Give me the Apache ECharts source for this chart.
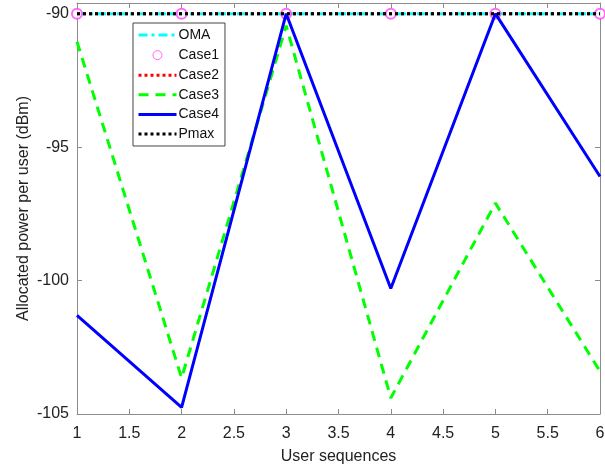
<!DOCTYPE html>
<html><head><meta charset="utf-8">
<script src="https://cdn.jsdelivr.net/npm/echarts@6/dist/echarts.min.js"></script>
<style>html,body{margin:0;padding:0;background:#fff}#c{width:605px;height:468px}</style>
</head><body><div id="c"></div>
<script>
const users = [1, 2, 3, 4, 5, 6];
const oma   = [-90, -90, -90, -90, -90, -90];
const case1 = [-90, -90, -90, -90, -90, -90];
const case2 = [-90, -90, -90, -90, -90, -90];
const case3 = [-91.05, -103.65, -90.45, -104.4, -97.1, -103.4];
const case4 = [-101.3, -104.75, -90, -100.3, -90, -96.1];
const pmax  = [-90, -90, -90, -90, -90, -90];
const xTicks = { min: 1, max: 6, interval: 0.5 };
const yTicks = { min: -105, max: -89.6, interval: 5 };

const pairs = arr => users.map((u, i) => [u, arr[i]]);
const FONT = 'Liberation Sans, Arial, sans-serif';
const AX = '#8c8c8c';
const chart = echarts.init(document.getElementById('c'), null, { renderer: 'canvas' });

const baseX = {
  type: 'value', min: xTicks.min, max: xTicks.max, interval: xTicks.interval,
  axisLine: { show: true, lineStyle: { color: AX, width: 1 } },
  axisTick: { show: true, inside: true, length: 5, lineStyle: { color: AX } },
  splitLine: { show: false }
};
const baseY = {
  type: 'value', min: yTicks.min, max: yTicks.max, interval: yTicks.interval,
  axisLine: { show: true, lineStyle: { color: AX, width: 1 } },
  axisTick: { show: true, inside: true, length: 5, lineStyle: { color: AX } },
  splitLine: { show: false }
};
const yFmt = v => (Math.abs(v % 5) < 1e-6 ? String(v) : '');
const noSym = { opacity: 0 };
const circleIcon = 'path://M0,0h0.01M38,14h0.01M23.5,7A4.5,4.5,0,1,1,14.5,7A4.5,4.5,0,1,1,23.5,7Z';

chart.setOption({
  animation: false,
  backgroundColor: '#fff',
  grid: { left: 77, right: 5, top: 3, bottom: 54, containLabel: false, outerBoundsMode: 'none' },
  legend: {
    orient: 'vertical', left: 133, top: 23,
    padding: [5, 6, 5, 4], itemGap: 5.6, itemWidth: 38, itemHeight: 14,
    backgroundColor: '#fff', borderColor: '#444', borderWidth: 1,
    textStyle: { fontFamily: FONT, fontSize: 14, color: '#111', padding: [0, 0, 0, -3] },
    data: [
      { name: 'OMA', itemStyle: noSym, lineStyle: { width: 3 } },
      { name: 'Case1', icon: circleIcon, itemStyle: { color: '#fff', borderColor: '#ff44ff', borderWidth: 1 } },
      { name: 'Case2', itemStyle: noSym, lineStyle: { width: 3 } },
      { name: 'Case3', itemStyle: noSym, lineStyle: { width: 3 } },
      { name: 'Case4', itemStyle: noSym, lineStyle: { width: 3 } },
      { name: 'Pmax', itemStyle: noSym, lineStyle: { width: 3 } }
    ]
  },
  xAxis: [
    Object.assign({}, baseX, {
      position: 'bottom',
      name: 'User sequences', nameLocation: 'middle', nameGap: 35,
      nameTextStyle: { fontFamily: FONT, fontSize: 16, color: '#222' },
      axisLabel: { fontFamily: FONT, fontSize: 16, color: '#222', margin: 12 }
    }),
    Object.assign({}, baseX, { position: 'top', axisLabel: { show: false } })
  ],
  yAxis: [
    Object.assign({}, baseY, {
      position: 'left',
      name: 'Allocated power per user (dBm)', nameLocation: 'middle', nameGap: 45,
      nameMoveOverlap: false,
      nameTextStyle: { fontFamily: FONT, fontSize: 16, color: '#222' },
      axisLabel: { fontFamily: FONT, fontSize: 16, color: '#222', margin: 8, formatter: yFmt, showMaxLabel: false }
    }),
    Object.assign({}, baseY, { position: 'right', axisLabel: { show: false } })
  ],
  series: [
    { name: 'OMA', type: 'line', data: pairs(oma), symbol: 'none',
      lineStyle: { color: '#00ffff', width: 3, type: [9, 4, 3, 4] }, itemStyle: { color: '#00ffff' }, z: 2 },
    { name: 'Case1', type: 'scatter', data: pairs(case1), symbol: 'emptyCircle', symbolSize: 10,
      itemStyle: { color: '#ff44ff', borderColor: '#ff44ff', borderWidth: 1 }, clip: false, z: 3 },
    { name: 'Case2', type: 'line', data: pairs(case2), symbol: 'none',
      lineStyle: { color: '#ff0000', width: 3, type: [3, 3] }, itemStyle: { color: '#ff0000' }, z: 4 },
    { name: 'Case3', type: 'line', data: pairs(case3), symbol: 'none',
      lineStyle: { color: '#00ff00', width: 3, type: [10, 7] }, itemStyle: { color: '#00ff00' }, z: 5 },
    { name: 'Case4', type: 'line', data: pairs(case4), symbol: 'none',
      lineStyle: { color: '#0000ff', width: 3, type: 'solid' }, itemStyle: { color: '#0000ff' }, z: 6 },
    { name: 'Pmax', type: 'line', data: pairs(pmax), symbol: 'none',
      lineStyle: { color: '#000000', width: 3, type: [3, 3] }, itemStyle: { color: '#000000' }, z: 7 }
  ]
});
</script></body></html>
